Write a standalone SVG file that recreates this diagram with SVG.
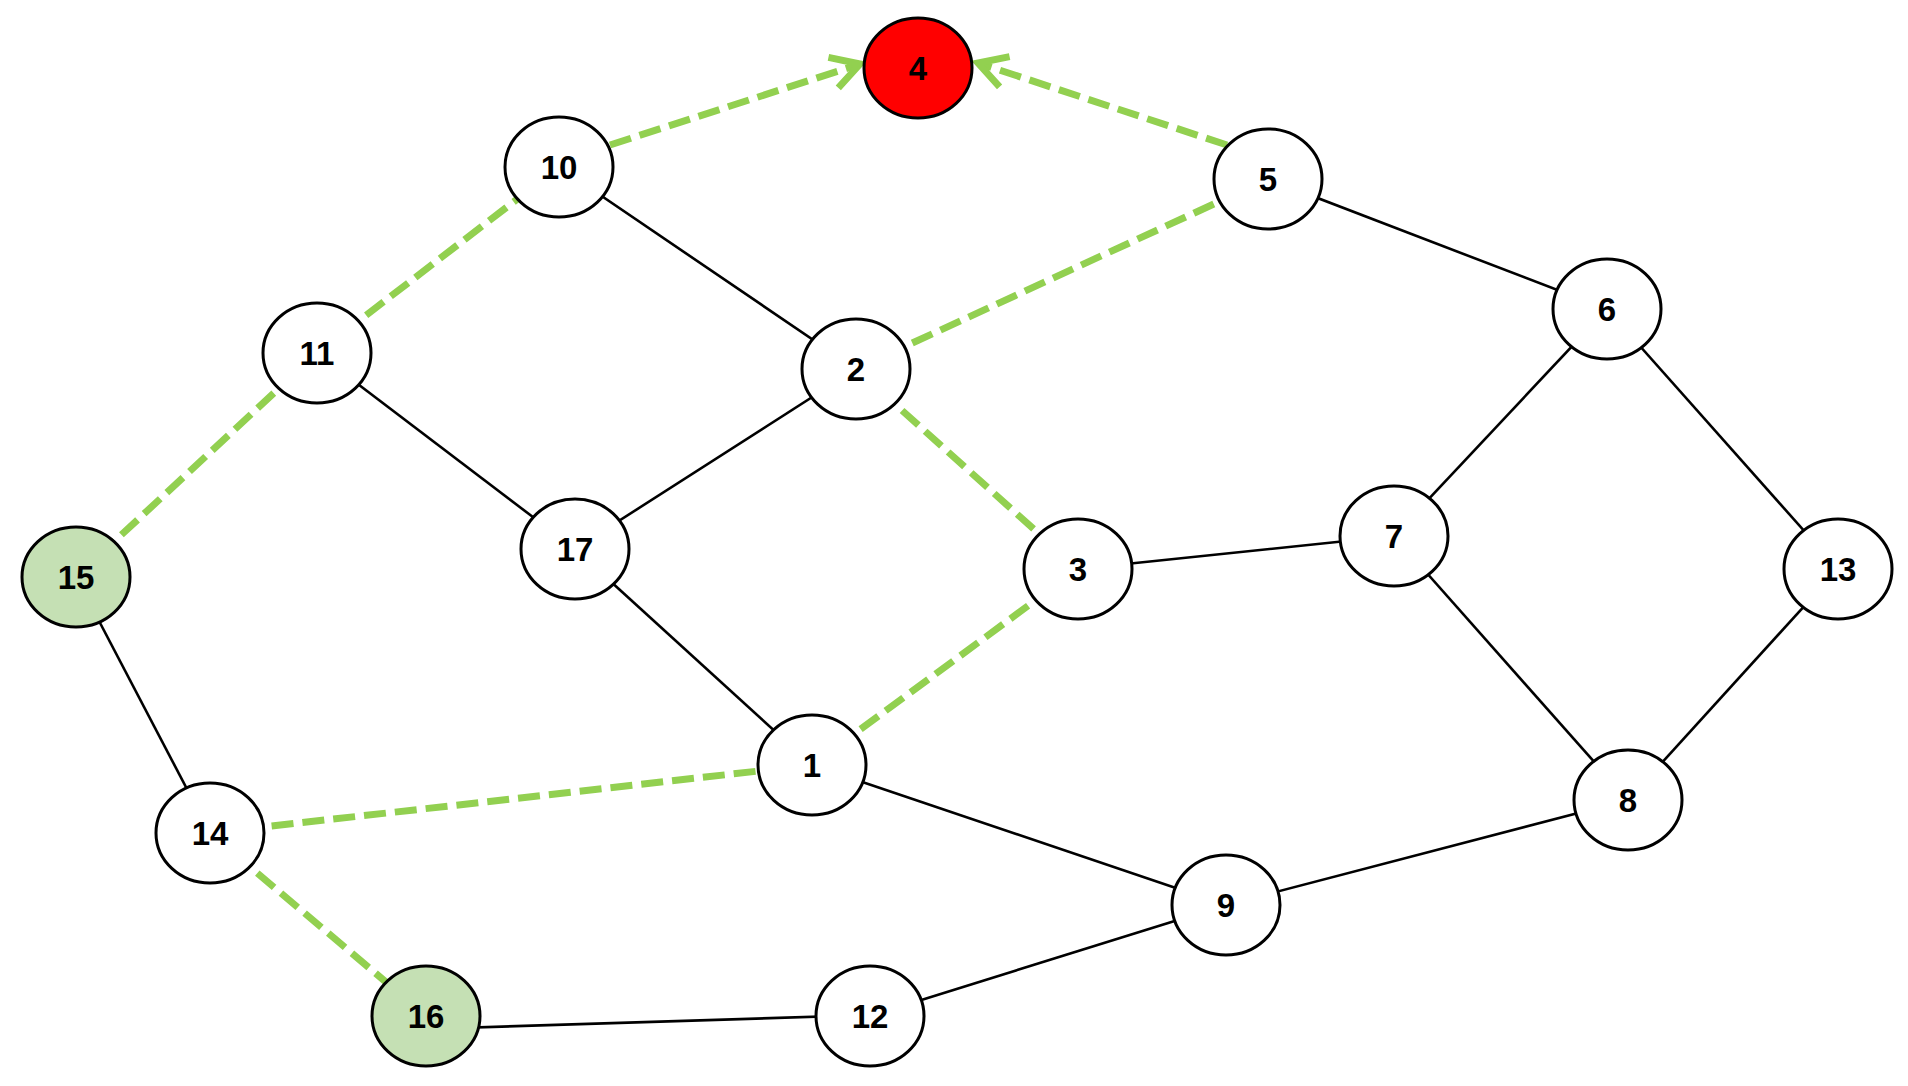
<svg xmlns="http://www.w3.org/2000/svg" width="1908" height="1086" viewBox="0 0 1908 1086">
<style>
.n{fill:#fff;stroke:#000;stroke-width:3}
.t{font-family:"Liberation Sans",Arial,sans-serif;font-weight:bold;font-size:33px;text-anchor:middle;fill:#000}
.e{stroke:#000;stroke-width:2.6;fill:none}
.g{stroke:#92D050;stroke-width:7;stroke-dasharray:22 9;fill:none}
</style>
<defs>
<marker id="ah" markerUnits="userSpaceOnUse" viewBox="-40 -25 50 50" refX="0" refY="0" markerWidth="50" markerHeight="50" orient="auto">
<path d="M-28,-16 L0,0 L-28,16" fill="none" stroke="#92D050" stroke-width="7" stroke-linejoin="miter"/>
</marker>
</defs>
<rect width="1908" height="1086" fill="#fff"/>
<g id="connectors">
<line class="e" x1="559" y1="167" x2="856" y2="369"/>
<line class="e" x1="1268" y1="179" x2="1607" y2="309"/>
<line class="e" x1="317" y1="353" x2="575" y2="549"/>
<line class="e" x1="575" y1="549" x2="856" y2="369"/>
<line class="e" x1="1607" y1="309" x2="1394" y2="536"/>
<line class="e" x1="1607" y1="309" x2="1838" y2="569"/>
<line class="e" x1="1078" y1="569" x2="1394" y2="536"/>
<line class="e" x1="1394" y1="536" x2="1628" y2="800"/>
<line class="e" x1="1838" y1="569" x2="1628" y2="800"/>
<line class="e" x1="575" y1="549" x2="812" y2="765"/>
<line class="e" x1="76" y1="577" x2="210" y2="833"/>
<line class="e" x1="812" y1="765" x2="1226" y2="905"/>
<line class="e" x1="1628" y1="800" x2="1226" y2="905"/>
<line class="e" x1="1226" y1="905" x2="870" y2="1016"/>
<line class="e" x1="426" y1="1029" x2="870" y2="1015"/>
<line class="g" x1="610" y1="145" x2="860" y2="64" marker-end="url(#ah)"/>
<line class="g" x1="1227" y1="145" x2="978" y2="63" marker-end="url(#ah)"/>
<line class="g" x1="317" y1="353" x2="559" y2="167"/>
<line class="g" x1="76" y1="577" x2="317" y2="353"/>
<line class="g" x1="856" y1="369" x2="1268" y2="179"/>
<line class="g" x1="856" y1="369" x2="1078" y2="569"/>
<line class="g" x1="1078" y1="569" x2="812" y2="765"/>
<line class="g" x1="210" y1="833" x2="812" y2="765"/>
<line class="g" x1="210" y1="833" x2="426" y2="1016"/>
</g>
<g id="node-4"><ellipse class="n" cx="918" cy="68" rx="54" ry="50" style="fill:#FF0000"/><text class="t" x="918" y="80">4</text></g>
<g id="node-10"><ellipse class="n" cx="559" cy="167" rx="54" ry="50"/><text class="t" x="559" y="179">10</text></g>
<g id="node-5"><ellipse class="n" cx="1268" cy="179" rx="54" ry="50"/><text class="t" x="1268" y="191">5</text></g>
<g id="node-11"><ellipse class="n" cx="317" cy="353" rx="54" ry="50"/><text class="t" x="317" y="365">11</text></g>
<g id="node-2"><ellipse class="n" cx="856" cy="369" rx="54" ry="50"/><text class="t" x="856" y="381">2</text></g>
<g id="node-6"><ellipse class="n" cx="1607" cy="309" rx="54" ry="50"/><text class="t" x="1607" y="321">6</text></g>
<g id="node-15"><ellipse class="n" cx="76" cy="577" rx="54" ry="50" style="fill:#C5E0B4"/><text class="t" x="76" y="589">15</text></g>
<g id="node-17"><ellipse class="n" cx="575" cy="549" rx="54" ry="50"/><text class="t" x="575" y="561">17</text></g>
<g id="node-3"><ellipse class="n" cx="1078" cy="569" rx="54" ry="50"/><text class="t" x="1078" y="581">3</text></g>
<g id="node-7"><ellipse class="n" cx="1394" cy="536" rx="54" ry="50"/><text class="t" x="1394" y="548">7</text></g>
<g id="node-13"><ellipse class="n" cx="1838" cy="569" rx="54" ry="50"/><text class="t" x="1838" y="581">13</text></g>
<g id="node-1"><ellipse class="n" cx="812" cy="765" rx="54" ry="50"/><text class="t" x="812" y="777">1</text></g>
<g id="node-14"><ellipse class="n" cx="210" cy="833" rx="54" ry="50"/><text class="t" x="210" y="845">14</text></g>
<g id="node-8"><ellipse class="n" cx="1628" cy="800" rx="54" ry="50"/><text class="t" x="1628" y="812">8</text></g>
<g id="node-9"><ellipse class="n" cx="1226" cy="905" rx="54" ry="50"/><text class="t" x="1226" y="917">9</text></g>
<g id="node-16"><ellipse class="n" cx="426" cy="1016" rx="54" ry="50" style="fill:#C5E0B4"/><text class="t" x="426" y="1028">16</text></g>
<g id="node-12"><ellipse class="n" cx="870" cy="1016" rx="54" ry="50"/><text class="t" x="870" y="1028">12</text></g>
</svg>
